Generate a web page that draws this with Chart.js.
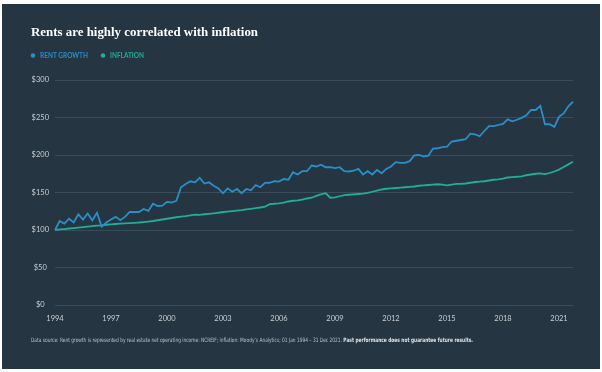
<!DOCTYPE html>
<html>
<head>
<meta charset="utf-8">
<script src="https://cdn.jsdelivr.net/npm/chart.js@4"></script>
<style>
  html, body { margin: 0; padding: 0; background: #fff; }
  #wrap { width: 602px; height: 372px; }
</style>
</head>
<body>
<div id="wrap"><canvas id="rentsCanvas" width="602" height="372"></canvas></div>
<script>
// quarterly, 1994 Q1 .. 2021 Q4, indexed to $100
const years = [];
for (let y = 1994; y <= 2021; y++) years.push(y);
const quarterLabels = [];
years.forEach(y => ['Q1', 'Q2', 'Q3', 'Q4'].forEach(q => quarterLabels.push(y + ' ' + q)));
const tickYears = [1994, 1997, 2000, 2003, 2006, 2009, 2012, 2015, 2018, 2021];

const rentGrowth = [
  100, 112, 108.5, 115, 110, 121, 114, 122, 113, 123, 104.5, 110,
  114, 117.5, 113, 117.5, 124, 124, 124, 128, 125.5, 135, 132, 132.5,
  137.5, 136.7, 139, 157, 161.4, 165, 163.6, 169.5, 162, 163.6, 159, 155.5,
  149, 155.5, 151, 154.7, 149, 154.7, 153, 160, 157, 162.8, 163, 165,
  164.5, 168, 167, 177, 174, 178.4, 178.4, 186, 184.7, 187, 183.7, 183.7,
  182.4, 183.7, 178.4, 178, 179, 181.5, 174, 178.4, 174, 180, 175.7, 181.5,
  184.7, 190.5, 189.6, 189.6, 191.8, 199.5, 200, 198, 199, 208.5, 209, 210.5,
  211, 218, 219, 220, 221, 228.5, 227.5, 225, 232, 238.5, 238.5, 240,
  241.5, 247.5, 245, 247, 249.5, 253, 260, 260, 265.5, 241, 241, 237.5,
  251, 255.5, 265, 271
];

const inflation = [
  100, 100.7, 101.3, 102, 102.6, 103.2, 103.8, 104.5, 105.2, 105.8, 106.3, 107,
  107.5, 108, 108.4, 108.8, 109.2, 109.6, 110, 110.6, 111.3, 112, 113, 114,
  115, 116, 117, 117.8, 118.5, 119.5, 120.5, 120.2, 121, 121.6, 122.3, 123,
  124, 124.6, 125.2, 125.8, 126.4, 127.5, 128.3, 129.2, 130, 131, 134.5, 135,
  135.5, 136.5, 138, 139, 139.5, 140.5, 142, 143, 145.5, 147.5, 149, 143,
  143.5, 145, 146.5, 147, 147.5, 148, 148.5, 149.5, 151, 152.5, 154, 155,
  155.5, 156, 156.5, 157, 157.5, 158, 159, 159.5, 160, 160.5, 161, 160.5,
  159.5, 160.5, 161.5, 161.5, 162, 163, 164, 164.5, 165, 166, 167, 167.5,
  168.5, 170, 170.5, 171, 171.5, 173, 174, 175, 175.5, 174.5, 176, 178,
  180.5, 184, 187.5, 191
];

const yTicks = [0, 50, 100, 150, 200, 250, 300];

const titleText = 'Rents are highly correlated with inflation';
const noteText = 'Data source: Rent growth is represented by real estate net operating income: NCREIF; inflation: Moody\u2019s Analytics; 01 Jan 1994 \u2013 31 Dec 2021. ';
const noteBold = 'Past performance does not guarantee future results.';

const panelColor = '#253541';
const blue = '#2a8fc6';
const teal = '#1fae96';

// draw text squeezed/stretched to a given width
function fitText(ctx, txt, x, y, w) {
  const m = ctx.measureText(txt).width;
  ctx.save();
  ctx.translate(x, y);
  ctx.scale(w / m, 1);
  ctx.fillText(txt, 0, 0);
  ctx.restore();
}

const panelPlugin = {
  id: 'panel',
  beforeDraw(chart) {
    const ctx = chart.ctx;
    ctx.save();
    ctx.fillStyle = '#ffffff';
    ctx.fillRect(0, 0, chart.width, chart.height);
    ctx.fillStyle = panelColor;
    ctx.fillRect(2, 4, 598, 365);
    ctx.restore();
  },
  afterDraw(chart) {
    const ctx = chart.ctx;
    ctx.save();
    ctx.textBaseline = 'alphabetic';
    // title
    ctx.fillStyle = '#ffffff';
    ctx.font = 'bold 13.5px "Liberation Serif"';
    fitText(ctx, titleText, 31, 36, 227);

    // legend
    const items = [
      { x: 33, w: 48, ds: chart.data.datasets[0] },
      { x: 103, w: 34, ds: chart.data.datasets[1] }
    ];
    ctx.font = 'bold 7.5px Lato';
    items.forEach(it => {
      ctx.fillStyle = it.ds.borderColor;
      ctx.beginPath();
      ctx.arc(it.x, 55.5, 2.3, 0, Math.PI * 2);
      ctx.fill();
      fitText(ctx, it.ds.label.toUpperCase(), it.x + 7, 58.3, it.w);
    });

    // footnote
    ctx.fillStyle = '#b9c1c8';
    ctx.font = '6px "Liberation Sans Narrow", "DejaVu Sans Condensed"';
    const w1 = ctx.measureText(noteText).width;
    ctx.font = 'bold 6px "Liberation Sans Narrow", "DejaVu Sans Condensed"';
    const w2 = ctx.measureText(noteBold).width;
    const k = 442 / (w1 + w2);
    ctx.translate(31, 342);
    ctx.scale(k, 1);
    ctx.font = '6px "Liberation Sans Narrow", "DejaVu Sans Condensed"';
    ctx.fillText(noteText, 0, 0);
    ctx.fillStyle = '#dfe3e7';
    ctx.font = 'bold 6px "Liberation Sans Narrow", "DejaVu Sans Condensed"';
    ctx.fillText(noteBold, w1, 0);
    ctx.restore();
  }
};

const ctx = document.getElementById('rentsCanvas').getContext('2d');
new Chart(ctx, {
  type: 'line',
  data: {
    labels: quarterLabels,
    datasets: [
      {
        label: 'Rent growth',
        data: rentGrowth,
        borderColor: blue,
        borderWidth: 1.8,
        pointRadius: 0,
        tension: 0,
        fill: false
      },
      {
        label: 'Inflation',
        data: inflation,
        borderColor: teal,
        borderWidth: 1.8,
        pointRadius: 0,
        tension: 0,
        fill: false
      }
    ]
  },
  options: {
    responsive: false,
    animation: false,
    devicePixelRatio: 1,
    layout: { padding: { left: 22, right: 29, top: 80, bottom: 40 } },
    plugins: {
      legend: { display: false },
      title: { display: false },
      tooltip: { enabled: false }
    },
    scales: {
      x: {
        type: 'category',
        offset: false,
        grid: { display: false, drawTicks: false },
        border: { display: false },
        ticks: {
          autoSkip: false,
          maxRotation: 0,
          padding: 9,
          color: '#c9cfd4',
          font: { family: 'Lato', size: 7.5 },
          callback: function (val, i) {
            const lab = quarterLabels[i];
            const yr = parseInt(lab, 10);
            return (lab.endsWith('Q1') && tickYears.includes(yr)) ? String(yr) : '';
          }
        }
      },
      y: {
        min: 0,
        max: 300,
        afterBuildTicks: s => { s.ticks = yTicks.map(v => ({ value: v })); },
        afterFit: s => { s.width = 33; },
        grid: { color: '#3a4b59', lineWidth: 1, drawTicks: false },
        border: { display: false },
        ticks: {
          crossAlign: 'center',
          padding: 6,
          color: '#c9cfd4',
          font: { family: 'Lato', size: 7.5 },
          callback: v => '$' + v
        }
      }
    }
  },
  plugins: [panelPlugin]
});
</script>
</body>
</html>
